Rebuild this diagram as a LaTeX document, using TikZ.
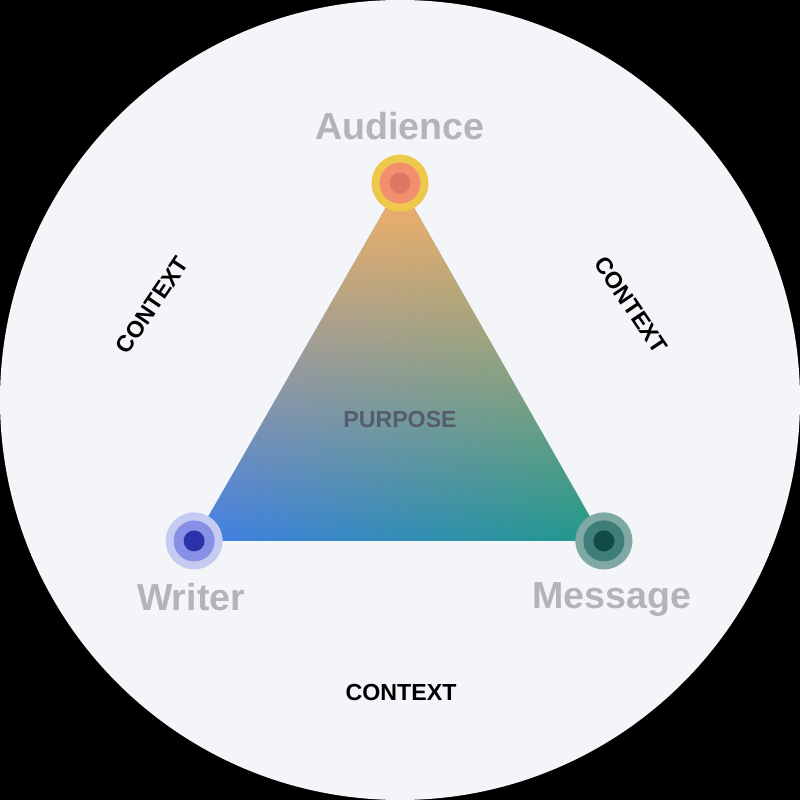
\documentclass[tikz,border=0pt]{standalone}
\usepackage{fontspec}
\setmainfont{Liberation Sans}
\usepackage{tikz}
\usetikzlibrary{positioning, fadings, calc}

\definecolor{bgcircle}{HTML}{F4F5F9}
\definecolor{vertexlabel}{HTML}{B3B3BA}
\definecolor{purposegray}{HTML}{555C6C}
\definecolor{audorange}{HTML}{F7B165}
\definecolor{wrblue}{HTML}{437FE8}
\definecolor{msgteal}{HTML}{1F9A88}
\definecolor{audouter}{HTML}{EEC84B}
\definecolor{audmid}{HTML}{F28F6E}
\definecolor{audinner}{HTML}{DE7766}
\definecolor{wrouter}{HTML}{C6CBF1}
\definecolor{wrmid}{HTML}{8790E6}
\definecolor{wrinner}{HTML}{2A34A8}
\definecolor{msgouter}{HTML}{80A8A4}
\definecolor{msgmid}{HTML}{3F7D78}
\definecolor{msginner}{HTML}{114A47}

\tikzfading[name=fadetop, top color=transparent!0, middle color=transparent!75, bottom color=transparent!100]

\tikzset{
    ringouter/.style={
        circle,
        minimum size=0.57cm,
        inner sep=0pt
    },
    ringmid/.style={
        circle,
        minimum size=0.41cm,
        inner sep=0pt
    },
    ringinner/.style={
        circle,
        minimum size=0.21cm,
        inner sep=0pt
    },
    vlabel/.style={
        text=vertexlabel,
        font=\fontsize{10.7}{12}\selectfont\bfseries,
        inner sep=0pt
    },
    ctxlabel/.style={
        text=black,
        font=\fontsize{6.6}{8}\selectfont\bfseries,
        inner sep=0pt
    }
}

\begin{document}
\begin{tikzpicture}[x=0.01cm, y=-0.01cm]

% Background
\fill[black] (0,0) rectangle (800,800);
\fill[bgcircle] (400,400) circle (4cm);

% Triangle corners
\coordinate (A) at (400,183);
\coordinate (W) at (194,541);
\coordinate (M) at (604,541);

% Triangle with gradient
\shade[left color=wrblue, right color=msgteal] (A) -- (W) -- (M) -- cycle;
\fill[audorange, path fading=fadetop] (A) -- (W) -- (M) -- cycle;

% Vertex markers
\node[ringouter, fill=audouter] (aud) at (A) {};
\node[ringmid, fill=audmid] (audm) at (A) {};
\node[ringinner, fill=audinner] (audi) at (A) {};

\node[ringouter, fill=wrouter] (wri) at (W) {};
\node[ringmid, fill=wrmid] (wrim) at (W) {};
\node[ringinner, fill=wrinner] (wrii) at (W) {};

\node[ringouter, fill=msgouter] (msg) at (M) {};
\node[ringmid, fill=msgmid] (msgm) at (M) {};
\node[ringinner, fill=msginner] (msgi) at (M) {};

% Vertex labels
\node[vlabel, above=0.13cm of aud] (audlabel) {Audience};
\node[vlabel, below=0.12cm of wri, xshift=-0.03cm] (wrilabel) {Writer};
\node[vlabel, below=0.12cm of msg, xshift=0.08cm] (msglabel) {Message};

% Purpose
\node[ctxlabel, text=purposegray] (purpose) at (400,420) {PURPOSE};

% Context
\node[ctxlabel] (ctxbottom) at (401,693) {CONTEXT};
\node[ctxlabel, rotate=56] (ctxleft) at (152,305) {CONTEXT};
\node[ctxlabel, rotate=-56] (ctxright) at (631,305) {CONTEXT};

\end{tikzpicture}
\end{document}
